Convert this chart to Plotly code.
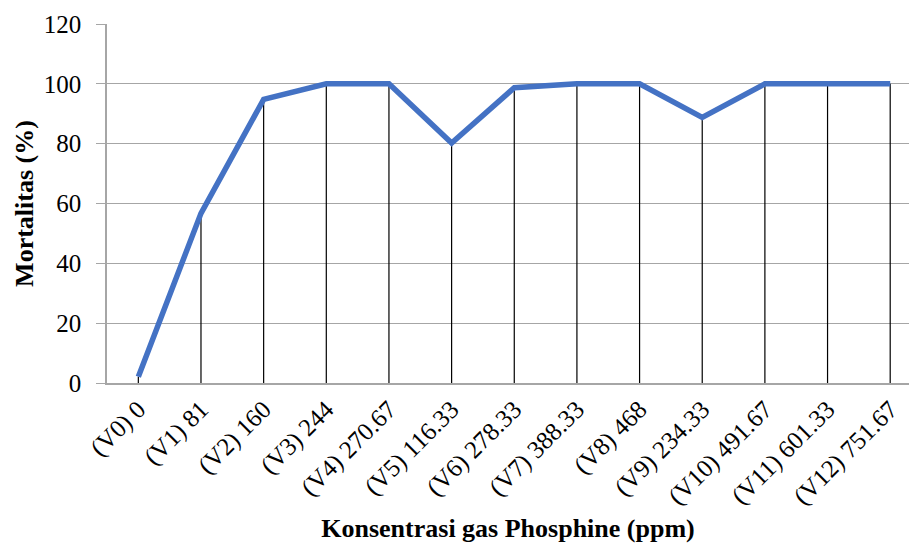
import plotly.graph_objects as go

categories = ["(V0) 0", "(V1) 81", "(V2) 160", "(V3) 244", "(V4) 270.67", "(V5) 116.33",
              "(V6) 278.33", "(V7) 388.33", "(V8) 468", "(V9) 234.33", "(V10) 491.67",
              "(V11) 601.33", "(V12) 751.67"]
mortality = [2.1, 56.7, 94.8, 100, 100, 80.2, 98.7, 100, 100, 88.8, 100, 100, 100]
y_ticks = [0, 20, 40, 60, 80, 100, 120]

x_idx = list(range(len(categories)))
zeros = [0] * len(mortality)

fig = go.Figure()
# drop lines from each point down to the axis
fig.add_trace(go.Scatter(
    x=x_idx, y=mortality, mode="markers", marker=dict(size=0.1, color="rgba(0,0,0,0)"),
    error_y=dict(type="data", symmetric=False, array=zeros, arrayminus=mortality,
                 width=0, color="#000000", thickness=1.2),
    hoverinfo="skip", showlegend=False))
fig.add_trace(go.Scatter(
    x=x_idx, y=mortality, mode="lines",
    line=dict(color="#4472C4", width=5.5),
    showlegend=False))

font_family = "Liberation Serif, Times New Roman, serif"
fig.update_layout(
    width=909, height=545,
    margin=dict(l=107, r=0, t=24, b=162),
    plot_bgcolor="white", paper_bgcolor="white",
    font=dict(family=font_family, color="#000000", size=24),
    showlegend=False,
)
fig.update_xaxes(
    tickmode="array", tickvals=x_idx, ticktext=categories, tickangle=-45,
    range=[-0.5, 12.3], showgrid=False, zeroline=False, automargin=False,
    showline=True, linecolor="#A6A6A6", linewidth=1.5, ticks="",
    tickfont=dict(size=25, family=font_family),
    title=dict(text="<b>Konsentrasi gas Phosphine (ppm)</b>", standoff=9,
               font=dict(size=26, family=font_family)),
)
fig.update_yaxes(
    tickmode="array", tickvals=y_ticks, range=[0, 120], automargin=False,
    showgrid=True, gridcolor="#A6A6A6", gridwidth=1.2, zeroline=False,
    showline=True, linecolor="#A6A6A6", linewidth=1.5,
    ticks="outside", ticklen=9, tickcolor="#A6A6A6", tickwidth=1.2,
    ticklabelstandoff=10,
    tickfont=dict(size=25, family=font_family),
    title=dict(text="<b>Mortalitas (%)</b>", standoff=3,
               font=dict(size=26, family=font_family)),
)

fig.write_html("out.html", config={"displayModeBar": False},
               post_script="document.body.style.margin='0';document.body.style.overflow='hidden';")
